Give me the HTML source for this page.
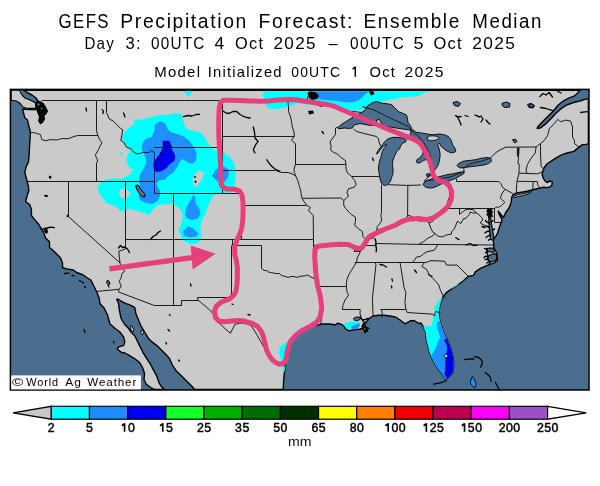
<!DOCTYPE html>
<html><head><meta charset="utf-8"><title>GEFS Precipitation Forecast</title>
<style>html,body{margin:0;padding:0;background:#fff;width:600px;height:486px;overflow:hidden}text{-webkit-font-smoothing:antialiased}svg{will-change:transform}</style>
</head><body>
<svg width="600" height="486" viewBox="0 0 600 486" style="display:block">
<rect width="600" height="486" fill="#fff"/>
<defs><clipPath id="mapclip"><rect x="10.7" y="89.7" width="578.2" height="300.2"/></clipPath>
<clipPath id="landclip"><path d="M23.5 90.2 L580.5 90.2 L579.2 90.8 L577.0 93.7 L574.0 96.2 L568.8 98.2 L563.5 100.8 L558.3 105.0 L553.2 111.2 L548.0 116.3 L542.8 121.5 L537.8 126.8 L537.2 128.5 L540.8 127.8 L546.0 123.6 L551.2 118.5 L555.4 113.8 L560.5 109.2 L566.6 105.0 L573.7 102.5 L579.8 101.0 L585.0 99.4 L588.4 98.4 L588.4 143.7 L585.7 144.6 L582.4 144.6 L579.0 147.1 L573.9 151.4 L567.2 153.0 L562.1 154.7 L557.0 157.3 L552.0 160.6 L546.9 164.0 L544.0 168.0 L542.0 174.0 L543.5 178.5 L545.0 181.0 L547.0 182.5 L550.0 181.0 L552.2 181.8 L552.0 185.0 L550.0 187.0 L547.0 187.6 L544.0 187.2 L540.0 188.0 L536.0 189.0 L532.0 190.0 L528.0 191.0 L524.0 191.8 L520.0 192.4 L516.0 193.0 L513.0 194.8 L512.0 196.5 L511.5 199.0 L511.0 203.0 L509.0 208.0 L506.0 212.0 L503.6 217.4 L502.5 216.5 L500.5 214.0 L498.3 211.2 L499.0 214.0 L500.5 217.0 L502.0 219.2 L501.3 222.0 L499.4 227.4 L497.6 233.0 L495.7 236.5 L493.8 238.8 L493.4 241.0 L493.6 244.0 L493.9 247.8 L496.7 253.3 L497.6 259.8 L494.8 262.6 L487.4 265.4 L480.9 268.1 L475.4 271.9 L473.5 275.4 L468.2 276.5 L462.5 281.5 L456.7 285.8 L451.0 289.4 L446.7 292.3 L443.1 296.6 L440.9 301.7 L439.5 307.4 L438.7 313.2 L439.5 318.9 L440.9 324.7 L443.1 330.4 L445.2 336.2 L447.4 340.2 L450.3 347.4 L452.5 354.6 L453.6 361.8 L453.6 367.6 L452.8 371.9 L451.0 374.8 L448.1 377.6 L445.3 379.1 L443.8 376.2 L441.7 373.3 L438.0 369.0 L434.5 363.2 L431.6 357.5 L429.4 351.7 L428.0 345.9 L426.5 340.2 L425.8 333.0 L423.6 327.2 L420.8 322.9 L419.0 323.5 L414.0 320.5 L410.0 321.0 L405.0 323.8 L400.0 320.0 L396.0 317.2 L390.0 316.0 L384.0 315.2 L379.0 315.3 L373.0 316.0 L369.2 318.3 L366.7 321.7 L364.2 323.3 L362.5 325.0 L363.3 326.7 L365.8 328.3 L366.7 330.8 L365.0 332.5 L364.2 330.0 L362.5 328.3 L359.2 329.2 L355.8 329.6 L352.5 330.0 L349.2 330.8 L345.8 329.2 L344.2 326.7 L342.5 325.0 L340.0 323.8 L337.5 323.3 L335.0 325.0 L330.0 324.0 L322.3 324.0 L316.1 325.4 L310.6 326.7 L307.9 328.1 L302.2 330.8 L299.7 332.2 L295.3 335.0 L293.5 336.3 L291.1 339.2 L289.4 342.5 L288.3 346.1 L287.3 349.7 L286.9 354.4 L286.3 357.9 L285.6 362.8 L285.3 366.1 L284.2 374.4 L283.5 382.6 L283.3 389.4 L194.4 389.4 L192.6 387.0 L187.0 381.5 L181.5 375.9 L175.9 370.4 L172.2 364.8 L169.5 358.5 L165.6 354.3 L161.9 350.6 L156.9 345.6 L152.0 341.9 L148.3 338.2 L144.6 332.0 L140.9 325.9 L138.4 319.7 L135.9 313.5 L134.7 307.3 L129.8 304.9 L126.0 303.6 L121.1 301.2 L118.0 299.0 L116.8 299.5 L118.6 303.6 L119.3 309.8 L121.1 318.5 L124.8 324.6 L128.5 328.3 L131.0 332.0 L134.7 335.7 L137.2 340.7 L140.2 346.9 L143.3 353.0 L146.5 358.0 L150.0 363.5 L153.7 370.4 L156.8 376.2 L159.2 383.2 L161.5 386.7 L164.5 389.4 L154.5 389.4 L151.0 387.8 L146.3 384.3 L144.0 379.7 L144.6 373.8 L142.8 368.0 L139.3 362.2 L135.2 359.0 L129.6 355.6 L124.1 352.5 L122.3 353.0 L117.4 349.3 L118.6 346.9 L123.6 345.6 L124.8 341.9 L123.6 337.0 L119.9 332.0 L114.9 328.3 L110.0 324.0 L107.4 314.8 L103.7 307.4 L100.0 303.7 L99.2 298.3 L96.7 291.7 L95.8 290.0 L93.3 285.0 L90.8 280.0 L86.7 277.5 L83.3 275.0 L76.7 272.5 L73.3 270.0 L66.7 269.0 L62.5 267.5 L62.5 263.3 L60.8 258.3 L56.7 254.0 L52.5 250.0 L49.5 247.5 L49.5 241.8 L45.4 237.7 L43.7 232.7 L41.3 228.6 L38.8 224.5 L34.7 219.6 L31.4 215.5 L31.4 209.7 L29.8 204.8 L25.6 201.5 L26.5 198.0 L28.9 190.0 L28.1 185.0 L27.3 182.0 L26.0 177.0 L24.8 172.6 L26.0 167.0 L28.5 162.0 L29.1 154.7 L29.8 142.3 L30.4 133.7 L30.0 130.0 L28.5 125.0 L27.5 120.0 L25.0 118.0 L24.0 114.7 L23.3 112.0 L22.7 109.3 L26.0 109.3 L30.0 109.5 L35.3 109.5 L38.0 109.3 L39.0 104.0 L38.0 101.0 L36.0 98.0 L32.0 95.0 L28.0 93.0 Z" /><path d="M11.2 90.2 L20.0 90.2 L20.5 92.5 L22.5 95.5 L25.0 98.0 L30.0 100.0 L34.0 102.0 L36.5 103.5 L37.0 106.0 L35.0 108.3 L30.0 108.4 L26.0 108.0 L23.0 107.0 L21.0 104.5 L19.0 102.5 L16.0 101.0 L13.0 100.5 L11.2 100.5 Z" /></clipPath></defs>
<g clip-path="url(#mapclip)">
<rect x="0" y="0" width="600" height="486" fill="#4b6e8f"/>
<path d="M23.5 90.2 L580.5 90.2 L579.2 90.8 L577.0 93.7 L574.0 96.2 L568.8 98.2 L563.5 100.8 L558.3 105.0 L553.2 111.2 L548.0 116.3 L542.8 121.5 L537.8 126.8 L537.2 128.5 L540.8 127.8 L546.0 123.6 L551.2 118.5 L555.4 113.8 L560.5 109.2 L566.6 105.0 L573.7 102.5 L579.8 101.0 L585.0 99.4 L588.4 98.4 L588.4 143.7 L585.7 144.6 L582.4 144.6 L579.0 147.1 L573.9 151.4 L567.2 153.0 L562.1 154.7 L557.0 157.3 L552.0 160.6 L546.9 164.0 L544.0 168.0 L542.0 174.0 L543.5 178.5 L545.0 181.0 L547.0 182.5 L550.0 181.0 L552.2 181.8 L552.0 185.0 L550.0 187.0 L547.0 187.6 L544.0 187.2 L540.0 188.0 L536.0 189.0 L532.0 190.0 L528.0 191.0 L524.0 191.8 L520.0 192.4 L516.0 193.0 L513.0 194.8 L512.0 196.5 L511.5 199.0 L511.0 203.0 L509.0 208.0 L506.0 212.0 L503.6 217.4 L502.5 216.5 L500.5 214.0 L498.3 211.2 L499.0 214.0 L500.5 217.0 L502.0 219.2 L501.3 222.0 L499.4 227.4 L497.6 233.0 L495.7 236.5 L493.8 238.8 L493.4 241.0 L493.6 244.0 L493.9 247.8 L496.7 253.3 L497.6 259.8 L494.8 262.6 L487.4 265.4 L480.9 268.1 L475.4 271.9 L473.5 275.4 L468.2 276.5 L462.5 281.5 L456.7 285.8 L451.0 289.4 L446.7 292.3 L443.1 296.6 L440.9 301.7 L439.5 307.4 L438.7 313.2 L439.5 318.9 L440.9 324.7 L443.1 330.4 L445.2 336.2 L447.4 340.2 L450.3 347.4 L452.5 354.6 L453.6 361.8 L453.6 367.6 L452.8 371.9 L451.0 374.8 L448.1 377.6 L445.3 379.1 L443.8 376.2 L441.7 373.3 L438.0 369.0 L434.5 363.2 L431.6 357.5 L429.4 351.7 L428.0 345.9 L426.5 340.2 L425.8 333.0 L423.6 327.2 L420.8 322.9 L419.0 323.5 L414.0 320.5 L410.0 321.0 L405.0 323.8 L400.0 320.0 L396.0 317.2 L390.0 316.0 L384.0 315.2 L379.0 315.3 L373.0 316.0 L369.2 318.3 L366.7 321.7 L364.2 323.3 L362.5 325.0 L363.3 326.7 L365.8 328.3 L366.7 330.8 L365.0 332.5 L364.2 330.0 L362.5 328.3 L359.2 329.2 L355.8 329.6 L352.5 330.0 L349.2 330.8 L345.8 329.2 L344.2 326.7 L342.5 325.0 L340.0 323.8 L337.5 323.3 L335.0 325.0 L330.0 324.0 L322.3 324.0 L316.1 325.4 L310.6 326.7 L307.9 328.1 L302.2 330.8 L299.7 332.2 L295.3 335.0 L293.5 336.3 L291.1 339.2 L289.4 342.5 L288.3 346.1 L287.3 349.7 L286.9 354.4 L286.3 357.9 L285.6 362.8 L285.3 366.1 L284.2 374.4 L283.5 382.6 L283.3 389.4 L194.4 389.4 L192.6 387.0 L187.0 381.5 L181.5 375.9 L175.9 370.4 L172.2 364.8 L169.5 358.5 L165.6 354.3 L161.9 350.6 L156.9 345.6 L152.0 341.9 L148.3 338.2 L144.6 332.0 L140.9 325.9 L138.4 319.7 L135.9 313.5 L134.7 307.3 L129.8 304.9 L126.0 303.6 L121.1 301.2 L118.0 299.0 L116.8 299.5 L118.6 303.6 L119.3 309.8 L121.1 318.5 L124.8 324.6 L128.5 328.3 L131.0 332.0 L134.7 335.7 L137.2 340.7 L140.2 346.9 L143.3 353.0 L146.5 358.0 L150.0 363.5 L153.7 370.4 L156.8 376.2 L159.2 383.2 L161.5 386.7 L164.5 389.4 L154.5 389.4 L151.0 387.8 L146.3 384.3 L144.0 379.7 L144.6 373.8 L142.8 368.0 L139.3 362.2 L135.2 359.0 L129.6 355.6 L124.1 352.5 L122.3 353.0 L117.4 349.3 L118.6 346.9 L123.6 345.6 L124.8 341.9 L123.6 337.0 L119.9 332.0 L114.9 328.3 L110.0 324.0 L107.4 314.8 L103.7 307.4 L100.0 303.7 L99.2 298.3 L96.7 291.7 L95.8 290.0 L93.3 285.0 L90.8 280.0 L86.7 277.5 L83.3 275.0 L76.7 272.5 L73.3 270.0 L66.7 269.0 L62.5 267.5 L62.5 263.3 L60.8 258.3 L56.7 254.0 L52.5 250.0 L49.5 247.5 L49.5 241.8 L45.4 237.7 L43.7 232.7 L41.3 228.6 L38.8 224.5 L34.7 219.6 L31.4 215.5 L31.4 209.7 L29.8 204.8 L25.6 201.5 L26.5 198.0 L28.9 190.0 L28.1 185.0 L27.3 182.0 L26.0 177.0 L24.8 172.6 L26.0 167.0 L28.5 162.0 L29.1 154.7 L29.8 142.3 L30.4 133.7 L30.0 130.0 L28.5 125.0 L27.5 120.0 L25.0 118.0 L24.0 114.7 L23.3 112.0 L22.7 109.3 L26.0 109.3 L30.0 109.5 L35.3 109.5 L38.0 109.3 L39.0 104.0 L38.0 101.0 L36.0 98.0 L32.0 95.0 L28.0 93.0 Z" fill="#cacaca" stroke="#000" stroke-width="1.4" stroke-linejoin="round"/>
<path d="M11.2 90.2 L20.0 90.2 L20.5 92.5 L22.5 95.5 L25.0 98.0 L30.0 100.0 L34.0 102.0 L36.5 103.5 L37.0 106.0 L35.0 108.3 L30.0 108.4 L26.0 108.0 L23.0 107.0 L21.0 104.5 L19.0 102.5 L16.0 101.0 L13.0 100.5 L11.2 100.5 Z" fill="#cacaca" stroke="#000" stroke-width="1.1" stroke-linejoin="round"/>
<path d="M513.5 196.2 L518.0 194.6 L523.0 193.6 L528.0 192.6 L531.5 191.6 L529.5 193.6 L524.0 195.2 L518.0 196.6 L514.0 197.6 Z" fill="#cacaca" stroke="#000" stroke-width="0.9"/>
<path d="M130.4 326.0 L132.0 325.9 L134.0 330.0 L133.0 332.0 L131.0 330.0 Z" fill="#cacaca" stroke="#000" stroke-width="0.9"/>
<path d="M141.0 330.5 L143.0 330.0 L143.5 333.0 L142.0 335.0 L140.9 333.5 Z" fill="#cacaca" stroke="#000" stroke-width="0.9"/>
<g clip-path="url(#landclip)">
<path d="M134.3 118.5 L137.3 120.0 L142.7 119.3 L150.7 117.3 L158.7 115.3 L166.7 114.7 L176.0 113.3 L181.3 114.0 L182.7 118.0 L184.0 123.3 L185.3 127.3 L189.3 130.0 L194.7 131.3 L200.0 132.0 L202.5 134.0 L206.5 140.8 L209.4 145.1 L213.7 149.5 L218.0 150.9 L223.8 152.3 L229.5 156.7 L233.8 162.4 L235.3 168.2 L235.6 175.0 L235.2 182.0 L233.5 188.0 L230.0 192.5 L222.0 193.6 L215.0 194.5 L212.0 197.5 L209.7 202.6 L205.6 212.9 L201.4 221.2 L200.4 229.4 L201.4 237.6 L199.4 241.7 L195.3 243.8 L189.1 243.8 L184.0 240.7 L180.9 236.6 L178.8 230.4 L180.9 224.2 L182.7 219.0 L182.5 213.0 L181.3 210.7 L176.0 205.3 L170.0 204.0 L166.7 204.0 L157.3 205.3 L153.3 209.3 L149.3 214.7 L144.0 213.3 L136.7 210.8 L130.0 208.8 L125.3 210.7 L120.0 210.7 L115.0 205.8 L106.7 203.3 L101.7 196.7 L98.3 191.7 L97.5 186.7 L101.7 181.7 L106.7 179.2 L115.0 178.3 L120.0 179.3 L128.0 176.0 L133.3 170.7 L128.0 165.3 L126.5 160.0 L126.7 158.0 L128.0 154.0 L130.7 151.3 L128.0 148.7 L125.3 144.7 L122.0 138.0 L122.7 135.3 L125.3 131.3 L129.3 127.3 L133.3 124.7 L134.7 122.0 Z M199.7 170.3 L204.3 172.7 L202.0 179.7 L197.3 185.5 L193.8 186.7 L192.7 179.7 L195.0 173.8 Z M120.0 189.5 L125.0 188.3 L130.8 193.3 L126.7 198.3 L122.5 198.3 L119.2 195.0 Z" fill="#00ffff" fill-rule="evenodd"/>
<path d="M121.3 152.0 L122.8 153.3 L121.3 154.8 L119.8 153.3 Z" fill="#00ffff"/>
<path d="M183.5 91.0 L193.0 91.0 L188.5 97.0 Z" fill="#00ffff"/>
<path d="M264.0 91.2 L262.5 95.0 L264.5 99.0 L265.7 105.3 L268.3 108.0 L275.0 109.3 L281.7 108.0 L288.3 106.7 L295.0 104.0 L300.0 103.0 L306.0 104.5 L313.0 104.5 L320.0 105.5 L330.0 106.5 L337.5 106.5 L345.0 109.0 L352.5 110.5 L360.0 110.5 L364.5 109.0 L368.0 106.0 L374.0 103.0 L380.0 102.0 L388.0 100.0 L396.0 99.0 L402.0 97.0 L410.0 97.0 L418.0 96.0 L424.0 93.0 L432.0 91.2 Z" fill="#00ffff"/>
<path d="M464.0 280.0 L461.0 283.5 L456.7 284.4 L452.4 288.0 L443.8 296.6 L438.0 301.7 L434.4 307.4 L433.9 313.3 L433.1 319.9 L431.5 325.6 L423.2 326.5 L418.0 325.0 L410.0 332.0 L430.0 395.0 L460.0 395.0 L470.0 300.0 L470.0 278.0 Z" fill="#00ffff"/>
<path d="M342.9 324.6 L345.8 322.9 L349.2 322.1 L353.3 321.3 L356.7 321.3 L359.2 322.1 L360.0 324.2 L358.3 327.1 L355.0 328.3 L351.7 328.8 L349.2 329.6 L346.7 328.3 L344.2 325.8 Z" fill="#00ffff"/>
<path d="M284.0 344.0 L287.0 341.0 L290.0 346.0 L290.0 360.0 L288.0 368.0 L286.0 374.0 L283.0 370.0 L281.0 360.0 L279.0 352.0 L280.0 347.0 Z" fill="#00ffff"/>
<path d="M160.0 121.3 L165.3 123.3 L167.3 128.7 L170.7 132.0 L177.3 134.0 L184.0 136.7 L189.3 140.7 L192.0 144.7 L194.7 148.7 L196.7 154.0 L196.0 160.7 L193.3 163.3 L189.3 163.3 L185.3 160.7 L182.7 159.0 L179.5 162.0 L177.3 167.0 L173.3 172.5 L168.0 176.0 L165.3 179.5 L160.0 180.0 L156.7 182.7 L157.3 186.7 L160.0 190.7 L160.0 196.0 L157.3 201.3 L152.0 204.0 L145.3 202.7 L140.0 200.0 L138.7 196.0 L140.0 189.3 L139.3 181.3 L140.0 174.7 L144.0 168.0 L146.5 162.0 L145.0 156.0 L142.0 150.0 L142.0 144.7 L144.0 140.7 L146.7 138.7 L152.0 136.7 L154.7 130.0 L154.7 124.7 Z" fill="#1e90ff"/>
<path d="M189.1 202.6 L191.5 199.0 L193.5 194.5 L195.5 197.5 L195.5 203.5 L199.4 208.8 L200.4 214.0 L198.4 218.1 L193.2 220.1 L188.1 219.1 L185.0 215.0 L186.0 208.8 Z" fill="#1e90ff"/>
<path d="M188.1 226.3 L193.2 228.4 L198.4 233.5 L196.3 236.6 L190.1 237.6 L184.0 235.6 L182.9 231.4 L186.0 228.4 Z" fill="#1e90ff"/>
<path d="M212.5 176.0 L215.0 170.5 L219.0 167.0 L224.0 166.5 L228.0 169.0 L229.0 173.5 L227.5 178.5 L224.0 182.5 L220.0 183.0 L216.0 180.0 Z" fill="#1e90ff"/>
<path d="M308.0 91.2 L309.7 94.7 L312.3 97.3 L319.0 99.3 L325.7 100.0 L335.0 100.7 L337.5 101.0 L345.0 102.3 L352.5 102.3 L358.0 100.5 L362.0 97.5 L365.0 94.5 L368.0 92.0 L372.0 91.2 Z" fill="#1e90ff"/>
<path d="M437.0 322.0 L439.5 321.0 L442.0 326.0 L445.0 333.0 L448.0 340.0 L452.0 348.0 L455.0 360.0 L455.0 372.0 L451.0 378.0 L445.0 380.0 L441.7 373.3 L438.0 369.0 L434.5 363.2 L431.0 356.0 L433.0 353.1 L435.9 347.4 L438.1 341.6 L440.2 337.3 L437.3 328.6 Z" fill="#1e90ff"/>
<path d="M350.8 326.7 L355.0 325.0 L359.2 323.3 L360.0 325.8 L356.7 329.2 L352.5 329.6 Z" fill="#1e90ff"/>
<path d="M162.7 140.7 L169.3 140.7 L171.3 144.7 L172.0 150.0 L174.7 154.0 L175.3 158.0 L174.3 161.0 L171.5 163.0 L169.3 164.5 L166.7 168.0 L161.3 171.3 L156.0 172.0 L153.5 168.0 L153.5 163.0 L155.5 159.5 L158.7 155.3 L161.3 151.3 L162.7 147.3 L162.5 143.0 Z" fill="#0000e8"/>
<path d="M443.8 340.2 L446.0 343.0 L447.4 348.8 L446.0 354.6 L445.3 361.8 L445.3 369.0 L444.5 374.0 L447.0 379.0 L455.0 376.0 L456.0 360.0 L452.0 345.0 L447.0 338.0 Z" fill="#0000e8"/>
</g>
<path d="M472.5 376.5 L474.8 380.0 L476.0 384.7 L474.8 388.2 L472.5 385.8 L470.2 382.9 L471.3 378.8 Z" fill="#1e90ff" stroke="#000" stroke-width="0.9"/>
<path d="M337.5 127.8 L342.0 124.0 L348.0 120.3 L354.0 116.5 L360.0 113.5 L364.5 110.5 L367.5 106.0 L372.0 103.0 L376.5 101.5 L381.0 103.0 L387.0 103.8 L391.5 104.5 L394.5 107.5 L399.0 112.0 L403.5 113.5 L406.5 115.0 L407.3 118.0 L408.0 122.5 L410.3 125.5 L411.8 128.5 L411.0 130.0 L405.0 129.3 L399.0 128.5 L393.0 127.5 L388.0 126.5 L383.0 126.0 L379.5 119.5 L377.0 120.0 L376.0 123.0 L373.0 125.5 L367.5 125.0 L360.0 123.5 L354.0 125.0 L352.5 127.8 L349.5 128.5 L345.0 128.0 L339.0 128.7 Z" fill="#4b6e8f" stroke="#000" stroke-width="0.9" stroke-linejoin="round"/>
<path d="M406.0 139.5 L404.0 138.3 L399.0 137.5 L394.0 137.3 L390.0 138.2 L387.0 139.5 L385.0 141.5 L382.5 144.5 L380.0 148.0 L377.5 151.5 L376.5 154.0 L378.0 153.0 L380.5 149.5 L383.5 146.0 L386.5 144.5 L385.5 146.5 L383.7 148.8 L382.2 151.7 L381.5 154.6 L380.8 157.5 L379.4 161.8 L378.6 166.1 L378.6 170.4 L379.4 174.8 L380.0 179.1 L381.5 183.4 L384.4 185.6 L387.3 184.8 L390.2 182.0 L391.6 177.6 L393.0 173.3 L393.0 169.0 L392.3 164.7 L393.0 160.3 L394.5 156.0 L396.7 151.7 L399.5 148.8 L401.0 145.2 L403.1 143.0 L406.0 141.6 Z" fill="#4b6e8f" stroke="#000" stroke-width="0.9" stroke-linejoin="round"/>
<path d="M407.0 139.0 L413.2 140.2 L419.0 143.0 L421.9 146.7 L423.3 151.0 L422.6 154.6 L419.6 157.9 L416.3 160.3 L417.2 163.1 L420.5 162.5 L423.7 160.3 L427.0 159.5 L429.5 161.2 L431.2 164.4 L432.0 167.7 L432.8 171.0 L434.5 170.5 L437.7 166.1 L439.4 161.2 L440.2 154.6 L439.4 149.6 L437.7 144.7 L439.4 143.0 L441.0 146.3 L446.0 150.5 L450.9 152.9 L455.0 152.1 L455.8 149.6 L452.6 144.7 L450.9 139.8 L448.4 136.5 L444.3 134.8 L439.4 134.0 L432.8 134.8 L427.0 134.0 L422.9 133.2 L416.3 132.3 L413.0 129.9 L410.5 130.5 L411.0 133.0 L409.0 136.0 L407.0 137.5 Z" fill="#4b6e8f" stroke="#000" stroke-width="0.9" stroke-linejoin="round"/>
<path d="M422.8 184.5 L425.5 187.0 L428.0 187.8 L431.5 188.0 L434.5 187.3 L437.5 186.0 L441.0 184.0 L443.5 183.4 L447.6 181.2 L450.0 180.5 L455.5 178.5 L460.0 175.8 L463.5 173.8 L464.5 171.8 L461.0 172.0 L457.0 172.8 L452.5 173.8 L448.0 174.5 L443.5 175.5 L439.0 176.8 L434.5 178.0 L430.0 179.5 L427.0 180.5 L425.0 182.0 Z" fill="#4b6e8f" stroke="#000" stroke-width="0.9" stroke-linejoin="round"/>
<path d="M457.0 165.8 L460.0 168.0 L466.0 167.3 L472.0 166.5 L478.0 165.8 L484.0 165.0 L488.5 163.5 L491.5 161.3 L490.8 158.3 L487.0 157.5 L481.0 158.3 L475.0 159.8 L469.0 160.5 L463.0 161.3 L458.5 163.5 Z" fill="#4b6e8f" stroke="#000" stroke-width="0.9" stroke-linejoin="round"/>
<path d="M426.5 174.0 L429.5 173.6 L430.0 175.8 L427.0 176.5 Z" fill="#4b6e8f" stroke="#000" stroke-width="0.9" stroke-linejoin="round"/>
<path d="M517.5 148.0 L519.0 148.0 L518.8 154.0 L518.0 157.0 L517.2 154.0 Z" fill="#4b6e8f" stroke="#000" stroke-width="0.9" stroke-linejoin="round"/>
<path d="M353.5 318.5 L356.0 317.0 L359.5 317.2 L360.5 319.0 L358.0 320.6 L354.5 320.4 Z" fill="#4b6e8f" stroke="#000" stroke-width="0.9" stroke-linejoin="round"/>
<path d="M428.0 136.2 L433.0 135.8 L438.0 136.5 L439.0 138.8 L435.0 140.3 L430.0 140.8 L427.0 139.0 Z" fill="#cacaca" stroke="#000" stroke-width="0.8"/>
<path d="M36.0 102.0 L40.0 101.5 L43.0 103.0 L45.0 106.0 L47.5 111.0 L46.0 114.0 L44.0 116.0 L44.5 119.0 L43.0 122.0 L40.5 124.0 L38.5 121.0 L39.5 117.0 L38.0 113.0 L36.5 109.0 L35.5 105.0 Z" fill="#000" stroke="#000" stroke-width="1" stroke-linejoin="round"/>
<circle cx="38.5" cy="104.5" r="1.2" fill="#4b6e8f"/><circle cx="41.5" cy="108.5" r="1" fill="#4b6e8f"/>
<path d="M489.5 212.0 L489.0 215.0 L488.8 219.0 L489.0 223.0 L489.3 227.0 L489.6 231.0 L490.0 235.0 L490.5 239.0 L493.3 240.5 L493.8 238.0 L493.2 234.0 L492.5 230.0 L491.8 226.0 L491.2 222.0 L490.8 218.0 L490.5 214.0 L490.5 211.0 Z" fill="#4b6e8f" stroke="#000" stroke-width="1.2" stroke-linejoin="round"/>
<path d="M488.0 256.5 L491.0 254.5 L494.5 253.5 L496.5 255.0 L497.0 258.0 L495.5 260.5 L492.0 261.5 L489.0 261.5 L487.5 259.0 Z" fill="#4b6e8f" stroke="#000" stroke-width="1.2" stroke-linejoin="round"/>
<path d="M486.5 248.5 L490.0 248.0 L493.5 248.2 L494.5 250.0 L493.5 252.2 L490.0 252.0 L487.0 251.5 Z" fill="#4b6e8f" stroke="#000" stroke-width="1.2" stroke-linejoin="round"/>
<path d="M487.5 209.0 L491.5 208.8 L492.5 212.0 L491.5 216.0 L489.0 218.0 L487.5 214.0 Z" fill="#000" stroke="#000" stroke-width="0.6" stroke-linejoin="round"/>
<path d="M375.0 238.8 L376.0 242.0 L375.5 245.0 L376.5 248.5 L376.2 251.7" fill="none" stroke="#000" stroke-width="1.4" stroke-linecap="round" stroke-linejoin="round"/>
<path d="M360.0 317.0 L362.5 320.0 L364.5 323.5 L366.0 327.5 L367.5 331.0" fill="none" stroke="#000" stroke-width="1.4" stroke-linecap="round" stroke-linejoin="round"/>
<path d="M364.5 323.5 L362.0 326.5 L363.5 329.5" fill="none" stroke="#000" stroke-width="1.4" stroke-linecap="round" stroke-linejoin="round"/>
<path d="M366.0 327.5 L369.0 328.5" fill="none" stroke="#000" stroke-width="1.4" stroke-linecap="round" stroke-linejoin="round"/>
<path d="M366.5 329.5 L365.0 332.5" fill="none" stroke="#000" stroke-width="1.4" stroke-linecap="round" stroke-linejoin="round"/>
<path d="M362.5 320.0 L365.5 319.5 L368.0 318.5" fill="none" stroke="#000" stroke-width="1.4" stroke-linecap="round" stroke-linejoin="round"/>
<path d="M489.3 227.0 L486.5 226.2 L484.5 227.5 L482.0 226.5" fill="none" stroke="#000" stroke-width="1.4" stroke-linecap="round" stroke-linejoin="round"/>
<path d="M489.6 231.0 L487.0 231.5 L485.0 232.8" fill="none" stroke="#000" stroke-width="1.4" stroke-linecap="round" stroke-linejoin="round"/>
<path d="M490.0 235.0 L487.5 236.3 L486.0 237.5" fill="none" stroke="#000" stroke-width="1.4" stroke-linecap="round" stroke-linejoin="round"/>
<path d="M490.5 239.0 L488.5 240.2" fill="none" stroke="#000" stroke-width="1.4" stroke-linecap="round" stroke-linejoin="round"/>
<path d="M489.0 223.0 L487.0 222.2 L485.5 220.5" fill="none" stroke="#000" stroke-width="1.4" stroke-linecap="round" stroke-linejoin="round"/>
<path d="M489.0 215.5 L487.0 214.5" fill="none" stroke="#000" stroke-width="1.4" stroke-linecap="round" stroke-linejoin="round"/>
<path d="M489.5 212.0 L487.0 211.0" fill="none" stroke="#000" stroke-width="1.4" stroke-linecap="round" stroke-linejoin="round"/>
<path d="M491.2 222.0 L493.0 220.5" fill="none" stroke="#000" stroke-width="1.4" stroke-linecap="round" stroke-linejoin="round"/>
<path d="M492.5 230.0 L494.5 229.0" fill="none" stroke="#000" stroke-width="1.4" stroke-linecap="round" stroke-linejoin="round"/>
<path d="M490.5 214.0 L492.5 216.5" fill="none" stroke="#000" stroke-width="1.4" stroke-linecap="round" stroke-linejoin="round"/>
<path d="M487.0 249.0 L484.5 248.6" fill="none" stroke="#000" stroke-width="1.4" stroke-linecap="round" stroke-linejoin="round"/>
<path d="M487.5 251.5 L485.5 252.8" fill="none" stroke="#000" stroke-width="1.4" stroke-linecap="round" stroke-linejoin="round"/>
<path d="M488.0 256.5 L485.5 256.2 L484.0 257.5" fill="none" stroke="#000" stroke-width="1.4" stroke-linecap="round" stroke-linejoin="round"/>
<path d="M487.5 259.0 L485.0 259.6" fill="none" stroke="#000" stroke-width="1.4" stroke-linecap="round" stroke-linejoin="round"/>
<path d="M489.0 261.5 L486.8 263.0" fill="none" stroke="#000" stroke-width="1.4" stroke-linecap="round" stroke-linejoin="round"/>
<path d="M490.5 262.0 L489.0 264.2" fill="none" stroke="#000" stroke-width="1.4" stroke-linecap="round" stroke-linejoin="round"/>
<path d="M486.5 248.5 L487.2 251.5 L488.0 256.5 L487.5 259.0 L489.0 261.5" fill="none" stroke="#000" stroke-width="1.4" stroke-linecap="round" stroke-linejoin="round"/>
<path d="M135.8 185.5 L138.0 185.0 L140.5 189.0 L144.5 193.5 L145.0 197.0 L142.0 196.5 L139.0 193.0 L136.5 189.0 Z" fill="#5a6a7a" stroke="#000" stroke-width="1"/>
<path d="M446.0 353.8 L448.2 356.0 L446.0 358.2 L443.8 356.0 Z" fill="#cacaca" stroke="#000" stroke-width="0.8"/>
<path d="M307.5 93.0 L311.0 91.5 L316.0 92.5 L319.0 95.5 L317.0 99.0 L312.0 100.0 L308.5 97.5 Z" fill="#000"/>
<path d="M369.0 91.5 L373.0 91.0 L374.5 94.0 L371.0 95.5 Z" fill="#000"/>
<path d="M308.0 111.0 L313.0 110.5 L314.0 113.5 L309.0 114.5 Z" fill="#000"/>
<path d="M49.0 175.5 L51.5 176.5 L51.0 179.0 L48.8 178.0 Z" fill="#000"/>
<path d="M67.0 214.5 L69.0 215.5 L68.0 217.5 L66.5 216.5 Z" fill="#000"/>
<path d="M44.0 228.0 L47.0 228.3 L48.0 231.5 L47.0 234.0 L45.0 233.0 L43.8 230.5 Z" fill="#000"/>
<path d="M44.0 194.8 L47.5 195.0 L48.0 196.8 L45.0 197.0 Z" fill="#000"/>
<path d="M194.3 175.8 L195.8 176.2 L195.5 178.2 L194.2 177.8 Z" fill="#000"/>
<path d="M194.8 180.5 L196.5 181.0 L196.2 183.0 L194.6 182.5 Z" fill="#000"/>
<path d="M212.8 175.2 L214.0 175.5 L213.8 176.8 L212.6 176.5 Z" fill="#000"/>
<path d="M107.0 280.5 L109.0 281.0 L110.0 284.0 L108.5 285.0 L106.8 283.0 Z" fill="#4b6e8f" stroke="#000" stroke-width="1"/>
<path d="M502.0 103.5 L506.0 102.0 L510.0 103.5 L509.5 107.0 L505.0 107.5 L502.5 106.0 Z" fill="#4b6e8f" stroke="#000" stroke-width="1"/>
<path d="M527.5 104.5 L531.0 103.6 L534.5 105.5 L533.0 108.0 L529.0 107.5 Z" fill="#4b6e8f" stroke="#000" stroke-width="1"/>
<path d="M530.0 103.5 L533.0 104.5 L533.6 107.0 L530.0 107.6 Z" fill="#4b6e8f" stroke="#000" stroke-width="1"/>
<path d="M512.5 139.8 L515.5 139.2 L517.0 141.5 L514.5 142.8 Z" fill="#4b6e8f" stroke="#000" stroke-width="1"/>
<path d="M453.0 102.5 L457.0 101.5 L460.5 103.5 L458.5 106.5 L454.5 105.5 Z" fill="#4b6e8f" stroke="#000" stroke-width="1"/>
<path d="M84.0 329.5 L85.0 332.5" fill="none" stroke="#000" stroke-width="1.3" stroke-linejoin="round" stroke-linecap="round"/>
<path d="M113.5 341.5 L114.0 343.0" fill="none" stroke="#000" stroke-width="1.3" stroke-linejoin="round" stroke-linecap="round"/>
<path d="M169.5 314.5 L170.0 315.5" fill="none" stroke="#000" stroke-width="1.3" stroke-linejoin="round" stroke-linecap="round"/>
<path d="M168.0 329.5 L169.5 331.0" fill="none" stroke="#000" stroke-width="1.3" stroke-linejoin="round" stroke-linecap="round"/>
<path d="M166.0 342.5 L166.5 344.0" fill="none" stroke="#000" stroke-width="1.3" stroke-linejoin="round" stroke-linecap="round"/>
<path d="M178.5 360.0 L179.5 361.0" fill="none" stroke="#000" stroke-width="1.3" stroke-linejoin="round" stroke-linecap="round"/>
<path d="M190.5 284.0 L191.0 286.0" fill="none" stroke="#000" stroke-width="1.3" stroke-linejoin="round" stroke-linecap="round"/>
<path d="M108.0 285.5 L109.0 287.0" fill="none" stroke="#000" stroke-width="1.3" stroke-linejoin="round" stroke-linecap="round"/>
<path d="M232.0 304.0 L233.0 304.5" fill="none" stroke="#000" stroke-width="1.3" stroke-linejoin="round" stroke-linecap="round"/>
<path d="M248.0 314.5 L250.0 315.0" fill="none" stroke="#000" stroke-width="1.3" stroke-linejoin="round" stroke-linecap="round"/>
<path d="M41.0 229.5 L44.0 228.5 L47.0 228.0 L50.5 227.2 L54.5 227.6" fill="none" stroke="#000" stroke-width="1.3" stroke-linejoin="round" stroke-linecap="round"/>
<path d="M118.5 248.0 L120.5 245.5 L122.5 247.5 L125.0 247.0 L127.5 249.0 L129.5 252.5" fill="none" stroke="#000" stroke-width="1.3" stroke-linejoin="round" stroke-linecap="round"/>
<path d="M540.0 96.5 L543.0 93.5 L546.0 95.0 L549.0 92.5 L552.5 97.0" fill="none" stroke="#000" stroke-width="1.3" stroke-linejoin="round" stroke-linecap="round"/>
<path d="M557.0 90.5 L559.0 92.0 L561.0 93.0" fill="none" stroke="#000" stroke-width="1.3" stroke-linejoin="round" stroke-linecap="round"/>
<path d="M476.0 115.5 L479.0 117.0 L481.0 116.0 L483.0 119.0 L481.0 122.0" fill="none" stroke="#000" stroke-width="1.3" stroke-linejoin="round" stroke-linecap="round"/>
<path d="M486.0 120.0 L488.5 123.0 L490.0 124.0" fill="none" stroke="#000" stroke-width="1.3" stroke-linejoin="round" stroke-linecap="round"/>
<path d="M455.5 115.5 L458.0 117.0 L461.0 116.5" fill="none" stroke="#000" stroke-width="1.3" stroke-linejoin="round" stroke-linecap="round"/>
<path d="M465.0 115.5 L468.0 116.5" fill="none" stroke="#000" stroke-width="1.3" stroke-linejoin="round" stroke-linecap="round"/>
<path d="M475.0 115.0 L479.0 116.5" fill="none" stroke="#000" stroke-width="1.3" stroke-linejoin="round" stroke-linecap="round"/>
<path d="M183.3 116.7 L188.0 115.5 L192.0 116.0 L196.0 114.5 L199.7 114.3" fill="none" stroke="#000" stroke-width="1.3" stroke-linejoin="round" stroke-linecap="round"/>
<path d="M223.3 111.3 L227.0 113.5 L230.0 113.0 L233.0 111.5 L236.7 111.5 L240.0 114.5 L243.3 116.3 L247.0 117.5 L250.0 118.0" fill="none" stroke="#000" stroke-width="1.3" stroke-linejoin="round" stroke-linecap="round"/>
<path d="M253.3 127.0 L254.5 132.0 L255.0 138.0 L258.0 141.3 L255.5 145.0 L253.3 149.7 L255.0 153.0" fill="none" stroke="#000" stroke-width="1.3" stroke-linejoin="round" stroke-linecap="round"/>
<path d="M266.7 159.7 L269.0 163.0 L271.7 166.3 L275.0 169.0 L280.0 171.3" fill="none" stroke="#000" stroke-width="1.3" stroke-linejoin="round" stroke-linecap="round"/>
<path d="M150.5 239.5 L153.0 236.5 L156.0 235.0 L158.0 232.5 L160.5 231.0" fill="none" stroke="#000" stroke-width="1.3" stroke-linejoin="round" stroke-linecap="round"/>
<path d="M380.0 264.5 L383.0 265.0 L386.5 267.0" fill="none" stroke="#000" stroke-width="1.3" stroke-linejoin="round" stroke-linecap="round"/>
<path d="M392.0 279.0 L392.5 281.0" fill="none" stroke="#000" stroke-width="1.3" stroke-linejoin="round" stroke-linecap="round"/>
<path d="M391.5 286.0 L391.8 288.0" fill="none" stroke="#000" stroke-width="1.3" stroke-linejoin="round" stroke-linecap="round"/>
<path d="M414.5 270.0 L416.5 272.5" fill="none" stroke="#000" stroke-width="1.3" stroke-linejoin="round" stroke-linecap="round"/>
<path d="M428.5 274.5 L432.0 276.5" fill="none" stroke="#000" stroke-width="1.3" stroke-linejoin="round" stroke-linecap="round"/>
<path d="M455.8 237.8 L459.0 239.6" fill="none" stroke="#000" stroke-width="1.3" stroke-linejoin="round" stroke-linecap="round"/>
<path d="M466.0 244.8 L470.0 243.6 L474.0 245.6 L477.0 245.2" fill="none" stroke="#000" stroke-width="1.3" stroke-linejoin="round" stroke-linecap="round"/>
<path d="M456.7 116.0 L458.5 119.0 L460.0 122.0 L461.0 125.0" fill="none" stroke="#000" stroke-width="1.3" stroke-linejoin="round" stroke-linecap="round"/>
<path d="M123.5 113.0 L124.5 115.5 L125.0 117.0" fill="none" stroke="#000" stroke-width="1.3" stroke-linejoin="round" stroke-linecap="round"/>
<path d="M102.2 109.5 L103.5 111.5 L102.8 113.5" fill="none" stroke="#000" stroke-width="1.3" stroke-linejoin="round" stroke-linecap="round"/>
<path d="M86.0 108.0 L86.5 111.0" fill="none" stroke="#000" stroke-width="1.3" stroke-linejoin="round" stroke-linecap="round"/>
<path d="M160.5 153.0 L162.0 154.5" fill="none" stroke="#000" stroke-width="1.3" stroke-linejoin="round" stroke-linecap="round"/>
<path d="M372.5 158.0 L373.5 160.5" fill="none" stroke="#000" stroke-width="1.3" stroke-linejoin="round" stroke-linecap="round"/>
<path d="M322.0 131.5 L323.5 133.5" fill="none" stroke="#000" stroke-width="1.3" stroke-linejoin="round" stroke-linecap="round"/>
<path d="M540.5 107.5 L546.0 108.5 L553.6 110.8" fill="none" stroke="#000" stroke-width="1.3" stroke-linejoin="round" stroke-linecap="round"/>
<path d="M580.7 112.5 L585.0 111.8 L588.4 111.7" fill="none" stroke="#000" stroke-width="1.3" stroke-linejoin="round" stroke-linecap="round"/>
<path d="M64.5 273.5 L69.0 273.2" fill="none" stroke="#000" stroke-width="1.3" stroke-linecap="round" stroke-linejoin="round"/>
<path d="M72.0 275.5 L74.0 275.8" fill="none" stroke="#000" stroke-width="1.3" stroke-linecap="round" stroke-linejoin="round"/>
<path d="M79.5 280.5 L81.0 281.5" fill="none" stroke="#000" stroke-width="1.3" stroke-linecap="round" stroke-linejoin="round"/>
<path d="M82.5 282.0 L83.5 283.0" fill="none" stroke="#000" stroke-width="1.3" stroke-linecap="round" stroke-linejoin="round"/>
<path d="M84.5 286.5 L85.5 287.5" fill="none" stroke="#000" stroke-width="1.3" stroke-linecap="round" stroke-linejoin="round"/>
<path d="M464.3 359.6 L468.0 359.2 L473.7 359.0" fill="none" stroke="#000" stroke-width="1.3" stroke-linecap="round" stroke-linejoin="round"/>
<path d="M474.3 356.7 L478.3 357.3 L481.8 360.2 L482.4 363.1 L480.7 367.2" fill="none" stroke="#000" stroke-width="1.3" stroke-linecap="round" stroke-linejoin="round"/>
<path d="M485.3 372.4 L490.0 376.5 L491.2 381.2" fill="none" stroke="#000" stroke-width="1.3" stroke-linecap="round" stroke-linejoin="round"/>
<path d="M495.3 382.3 L498.8 388.8" fill="none" stroke="#000" stroke-width="1.3" stroke-linecap="round" stroke-linejoin="round"/>
<path d="M446.7 380.5 L441.0 382.7 L433.7 384.1" fill="none" stroke="#000" stroke-width="1.3" stroke-linecap="round" stroke-linejoin="round"/>
<path d="M41.7 100.5 L307.5 100.5 L307.5 96.5 M311.1 97.4 L312.8 103.8 L317.1 104.9 L321.0 106.4 L324.8 105.5 L329.2 105.3 L332.5 107.2 L336.4 108.4 L341.2 110.7 L346.1 111.6 L349.9 111.5 L353.8 111.5 L358.6 112.2 L361.5 112.4 M362.0 106.5 L373.5 109.8 L390.0 118.0 L408.0 126.3 L411.2 129.6 L414.0 133.3 L418.0 135.5 L424.0 143.0 L430.0 154.6 L431.5 163.0 L432.5 171.0 L430.0 176.0 L426.0 179.0 L424.2 181.3 L437.0 179.3 L450.0 177.0 L458.0 174.0 L464.0 171.8 L463.8 168.0 L471.0 163.5 L480.0 161.5 L490.0 158.3 L496.0 152.5 L500.0 150.0 L505.9 147.2 M505.2 147.2 L536.1 147.0 L540.2 143.7 M540.2 143.7 L544.4 140.4 L547.7 135.3 L549.4 128.5 L553.6 124.3 L557.9 119.3 L560.4 121.8 L565.5 120.1 L570.5 121.0 L572.5 126.9 L572.5 137.0 L574.5 140.4 L574.5 143.7 L579.0 147.1 M96.0 291.5 L119.1 289.3 L118.3 291.9 L154.3 305.5 L181.5 305.5 L181.5 300.5 L198.1 300.5 M198.1 300.2 L201.1 302.6 L207.9 308.3 L214.7 315.1 L217.0 320.7 L223.7 327.5 L230.5 333.2 L232.5 329.0 L235.1 324.1 L241.9 323.0 L246.0 323.8 L250.9 325.3 L255.4 332.1 L260.6 341.4 L266.7 351.7 L272.9 360.0 L279.1 364.1 L285.0 366.1 M29.6 132.6 L34.4 132.7 L37.3 133.6 L40.2 134.4 L41.2 137.3 L41.7 139.6 L46.0 140.8 L49.9 139.6 L56.6 140.0 L62.4 138.5 L68.2 138.8 L74.0 136.5 L77.8 135.5 L97.9 135.5 M96.5 100.9 L96.5 130.7 L97.9 135.6 L100.0 140.2 L102.0 142.5 L99.5 147.2 L98.6 149.5 L95.2 155.3 L97.1 158.7 L97.6 161.1 L96.5 162.8 L96.5 181.9 M27.6 181.5 L154.5 181.5 M106.5 100.9 L106.5 112.7 L109.5 119.2 L113.5 121.1 L116.6 124.6 L120.3 128.1 L122.7 129.8 L121.7 135.7 L120.8 140.6 L123.2 141.7 L126.6 147.2 L131.4 148.9 L133.3 151.8 L137.7 154.1 L142.5 152.5 L149.2 152.5 L151.5 150.1 L154.5 153.0 L154.5 193.5 L173.8 193.5 M154.5 147.5 L222.1 147.5 M222.5 100.9 L222.5 193.5 M173.8 193.5 L241.5 193.5 L241.5 239.7 M173.5 193.5 L173.5 305.4 M125.5 181.9 L125.5 249.0 L122.2 250.2 L118.9 251.1 L119.3 257.1 L120.0 262.9 M125.6 239.5 L313.1 239.5 M241.4 205.5 L306.4 205.5 M68.5 181.9 L68.5 216.6 L120.0 262.9 M120.0 262.9 L120.6 265.2 L122.7 269.3 L124.8 271.3 L121.9 273.5 L121.1 277.9 L119.1 281.4 L121.3 286.0 L119.1 289.3 M232.5 239.7 L232.5 245.5 L261.5 245.5 L261.5 268.0 M231.5 245.5 L231.5 297.5 L197.3 297.5 L198.1 300.2 M261.1 268.0 L264.0 270.5 L266.9 270.5 L268.9 272.2 L271.8 272.7 L275.6 273.5 L279.5 273.5 L281.4 275.6 L284.3 276.2 L288.2 277.4 L291.1 276.5 L294.0 276.5 L296.8 277.4 L300.7 276.2 L304.6 275.9 L307.5 275.0 L310.4 276.8 L314.4 278.6 L318.7 279.7 M314.4 278.6 L314.9 258.3 L313.5 245.5 L313.5 239.7 L313.2 215.4 L310.4 212.6 L308.4 210.2 L310.5 207.6 L306.4 205.0 L304.1 201.6 L302.0 198.3 L301.2 194.6 L300.9 191.1 L299.7 187.7 L298.8 184.2 L297.8 180.7 L295.9 176.3 L293.0 174.2 L288.2 172.5 L281.4 172.5 L275.6 170.5 L222.1 170.5 M295.9 176.3 L294.4 172.6 L294.0 169.2 L295.5 164.5 L295.5 143.7 L291.5 140.2 L294.3 136.3 L294.0 132.1 L292.2 126.3 L291.5 121.7 L290.6 117.1 L288.5 111.3 L288.5 106.7 L287.8 100.9 M222.1 136.5 L294.3 136.5 M295.4 164.5 L345.9 164.5 M302.0 198.3 L340.9 198.0 L343.9 200.6 M345.9 164.5 L346.1 169.2 L347.5 173.2 L351.4 176.1 L354.7 180.7 L356.2 184.2 L354.3 187.1 L348.5 188.8 L347.0 192.3 L348.5 196.4 L346.8 197.5 L343.9 200.6 L343.6 205.0 L345.6 208.5 L349.4 212.6 L351.8 214.9 L355.5 217.2 L355.5 221.2 L354.7 225.3 L358.6 228.8 L362.5 231.6 L362.9 236.3 L365.8 239.7 L365.3 241.5 L362.0 245.5 L362.5 247.9 L360.5 251.3 L357.1 258.3 L356.7 261.7 L354.7 265.2 L351.8 269.8 L348.9 274.5 L347.0 279.1 L346.5 283.1 L346.3 286.0 L347.0 291.8 L348.5 295.3 L345.1 299.9 L343.2 304.6 L342.2 309.5 L360.2 309.5 L360.0 313.8 L361.5 318.7 M313.1 245.5 L356.2 245.5 L354.1 251.5 L360.5 251.5 M318.7 286.5 L346.3 286.5 M318.5 279.7 L318.5 297.6 L319.5 298.8 L321.0 303.4 L323.4 306.9 L322.9 310.3 L321.9 316.1 L321.4 319.6 L320.5 323.7 M345.9 164.5 L345.4 160.5 L341.2 157.6 L337.4 154.1 L333.0 152.0 L330.6 150.1 L331.1 146.0 L330.1 142.5 L331.1 140.2 L335.5 134.4 L335.5 128.1 L337.4 126.9 M353.6 129.0 L356.7 131.5 L363.4 133.3 L370.2 135.0 L376.0 136.4 L378.4 138.5 L379.3 143.1 L380.8 146.0 M351.5 176.5 L378.9 176.5 M381.5 184.7 L381.5 212.6 L380.8 215.4 L381.7 219.5 L380.8 222.4 L377.4 226.4 L376.6 230.5 L376.0 234.0 L372.6 238.6 L369.2 238.0 L365.8 239.7 M388.3 184.7 L407.8 185.4 L407.6 215.4 M407.6 215.4 L406.8 218.9 L402.0 219.7 L399.1 224.7 L396.2 225.9 L393.3 227.0 L391.4 228.5 L388.5 228.5 L385.6 230.5 L380.8 228.8 L376.6 230.5 M407.8 185.4 L420.8 185.0 M449.5 182.1 L449.5 208.3 M449.1 197.6 L448.1 200.4 L447.4 205.0 L445.9 208.5 L441.6 212.6 L437.7 214.3 L437.2 217.2 L433.8 219.5 L432.9 221.2 L429.0 223.0 L426.6 219.8 L422.3 221.0 L418.9 220.9 L414.6 218.9 L412.6 216.8 L409.7 215.7 L407.6 215.4 M429.0 223.0 L431.0 228.8 L432.9 232.2 L435.1 233.5 L431.9 236.3 L428.1 238.0 L423.7 241.5 L418.7 244.4 L376.4 243.5 L376.2 245.5 L362.0 245.5 M418.7 244.4 L437.9 244.5 L494.0 245.0 M437.9 244.5 L435.8 247.9 L434.3 250.2 L429.0 251.3 L426.1 252.1 L423.2 254.2 L420.3 256.4 L416.5 257.1 L415.0 259.4 L412.4 262.5 L354.7 262.5 M412.4 262.5 L424.2 262.5 L427.6 262.1 L431.0 260.6 L444.0 261.2 L445.0 261.7 L446.4 265.0 L457.2 265.2 L468.2 276.2 M424.2 262.9 L421.8 266.4 L426.6 269.3 L429.0 274.5 L432.9 278.5 L435.3 280.8 L438.7 284.9 L440.6 290.7 L443.5 296.5 L445.6 297.3 M400.1 262.9 L404.1 287.5 L405.9 292.4 L405.4 297.6 L404.9 302.2 L405.9 309.2 L407.2 312.5 L432.9 314.2 L434.3 316.1 L434.8 313.8 L435.8 311.5 L440.1 312.7 M380.8 309.5 L405.9 309.5 M380.8 309.2 L382.2 312.1 L381.7 317.5 M375.0 262.9 L376.0 264.1 L372.4 298.8 L373.1 316.4 M435.1 233.5 L438.2 236.3 L442.5 236.9 L445.9 235.1 L451.5 234.0 L451.5 231.6 L454.1 229.3 L457.5 221.2 L460.9 223.5 L463.8 218.3 L465.2 218.9 L469.5 214.3 L470.0 212.0 L473.4 213.1 L476.1 212.9 M476.1 212.9 L478.7 214.3 L480.6 216.6 L482.6 218.3 L482.6 220.1 L480.2 223.0 L483.1 224.7 L486.9 226.4 L489.8 228.8 M476.1 212.9 L473.4 209.7 L469.5 209.4 L465.7 209.7 L463.3 211.4 L459.5 214.3 L459.5 208.3 M449.1 208.5 L494.5 208.5 L494.5 222.5 L501.9 222.5 M494.7 208.3 L496.6 207.0 L498.3 207.3 L500.4 206.4 L501.9 205.0 L503.8 203.3 L504.8 202.5 L502.3 199.8 L500.4 198.3 L501.4 195.2 L502.3 192.9 L505.2 189.3 L513.0 193.6 M456.5 178.8 L456.5 181.5 L498.9 181.5 L500.9 183.6 L502.8 187.7 L505.2 189.3 M515.3 193.5 L516.8 192.3 L516.3 190.0 L517.0 181.3 L519.0 173.2 L519.2 163.9 L517.8 163.4 L518.5 158.7 L518.5 147.2 M517.0 181.3 L533.2 181.5 L537.3 181.5 L537.6 184.8 L539.8 187.7 M533.2 181.7 L532.7 189.8 M519.0 173.2 L538.0 173.8 L541.9 171.7 L542.7 171.8 M526.9 173.4 L526.0 170.3 L527.4 164.5 L530.8 158.7 L535.2 153.0 L536.1 147.0 M543.8 169.4 L541.1 166.3 L540.5 153.0 L540.5 143.7" fill="none" stroke="#1a1a1a" stroke-width="1" stroke-linejoin="round"/>
<path d="M218.7 130.0 L218.7 118.0 L219.2 108.0 L220.5 102.5 L223.0 100.3 L228.0 100.2 L240.0 100.5 L250.0 100.9 L260.0 101.2 L268.3 100.9 L278.0 100.0 L288.3 99.4 L296.0 99.8 L301.7 100.7 L308.0 101.5 L315.0 102.7 L322.0 103.7 L328.3 104.7 L335.0 106.6 L342.0 109.8 L350.0 113.0 L360.0 117.5 L370.0 121.7 L380.0 125.7 L390.0 130.0 L398.2 133.3 L406.5 136.4 L414.7 139.6 L420.5 143.5 L423.7 148.8 L427.0 154.6 L430.3 162.8 L432.0 169.4 L433.6 176.0 L437.7 180.1 L444.3 181.7 L449.3 185.8 L451.8 192.0 L451.5 198.5 L449.5 204.0 L446.0 208.5 L441.3 212.5 L434.3 217.3 L427.3 219.7 L418.0 218.5 L408.7 219.2 L401.7 221.5 L394.7 225.5 L385.3 229.0 L376.0 233.3 L369.0 236.8 L365.5 242.3 L362.0 247.7 L357.3 248.8 L352.7 246.5 L348.0 244.4 L338.7 244.3 L329.3 245.0 L322.0 245.8 L317.0 246.5 L315.0 249.5 L314.7 257.2 L315.3 265.0 L315.6 271.1 L317.5 285.0 L320.3 296.1 L321.7 307.2 L320.3 316.5 L316.5 322.5 L310.0 326.5 L302.0 330.5 L300.0 331.9 L295.0 336.0 L290.7 341.1 L288.5 346.5 L287.0 352.2 L286.5 357.0 L285.2 361.5 L283.0 363.5 L279.6 364.3 L276.0 362.8 L272.2 359.6 L269.5 356.0 L266.7 350.4 L265.0 343.0 L263.0 335.6 L261.0 331.0 L257.4 326.3 L252.3 323.5 L245.0 321.3 L238.8 320.5 L232.0 321.0 L225.0 321.8 L219.0 321.3 L215.5 317.5 L214.5 311.0 L216.5 306.0 L221.5 302.0 L229.0 299.2 L233.6 295.5 L235.9 291.6 L237.0 284.0 L237.4 277.2 L237.4 268.0 L236.5 261.0 L234.8 254.2 L234.8 247.0 L236.8 240.5 L239.8 234.0 L241.7 228.2 L242.8 220.0 L243.1 211.0 L243.0 202.3 L242.0 195.0 L239.5 191.0 L235.0 189.3 L227.3 189.0 L223.5 187.8 L221.2 184.5 L220.8 175.0 L220.5 165.0 L219.7 150.0 L219.0 140.0 L218.7 130.0" fill="none" stroke="#e6407c" stroke-width="5" stroke-linejoin="round" stroke-linecap="round"/>
<path d="M109.4 268.9 L192.0 257.6" fill="none" stroke="#e6407c" stroke-width="5.2"/>
<path d="M190.6 245.4 L215.6 253.8 L192.7 269.4 Z" fill="#e6407c"/>
</g>
<rect x="10.4" y="89.4" width="578.6" height="300.6" fill="none" stroke="#000" stroke-width="1.5"/>

<rect x="11.2" y="375.4" width="129.7" height="14" fill="#fff"/>
<text x="58.50" y="27.50" font-family="Liberation Sans, sans-serif" font-size="19.30" letter-spacing="1.60" textLength="51.50" lengthAdjust="spacingAndGlyphs" fill="#000">GEFS</text>
<text x="120.30" y="27.50" font-family="Liberation Sans, sans-serif" font-size="19.30" letter-spacing="1.60" textLength="127.70" lengthAdjust="spacingAndGlyphs" fill="#000">Precipitation</text>
<text x="258.50" y="27.50" font-family="Liberation Sans, sans-serif" font-size="19.30" letter-spacing="1.60" textLength="95.50" lengthAdjust="spacingAndGlyphs" fill="#000">Forecast:</text>
<text x="363.50" y="27.50" font-family="Liberation Sans, sans-serif" font-size="19.30" letter-spacing="1.60" textLength="97.30" lengthAdjust="spacingAndGlyphs" fill="#000">Ensemble</text>
<text x="472.30" y="27.50" font-family="Liberation Sans, sans-serif" font-size="19.30" letter-spacing="1.60" textLength="70.70" lengthAdjust="spacingAndGlyphs" fill="#000">Median</text>
<text x="84.50" y="48.50" font-family="Liberation Sans, sans-serif" font-size="16.40" letter-spacing="1.30" textLength="30.50" lengthAdjust="spacingAndGlyphs" fill="#000">Day</text>
<text x="125.50" y="48.50" font-family="Liberation Sans, sans-serif" font-size="16.40" letter-spacing="1.30" textLength="16.50" lengthAdjust="spacingAndGlyphs" fill="#000">3:</text>
<text x="151.10" y="48.50" font-family="Liberation Sans, sans-serif" font-size="16.40" letter-spacing="1.30" textLength="54.50" lengthAdjust="spacingAndGlyphs" fill="#000">00UTC</text>
<text x="214.50" y="48.50" font-family="Liberation Sans, sans-serif" font-size="16.40" letter-spacing="1.30" textLength="11.10" lengthAdjust="spacingAndGlyphs" fill="#000">4</text>
<text x="235.10" y="48.50" font-family="Liberation Sans, sans-serif" font-size="16.40" letter-spacing="1.30" textLength="29.30" lengthAdjust="spacingAndGlyphs" fill="#000">Oct</text>
<text x="273.50" y="48.50" font-family="Liberation Sans, sans-serif" font-size="16.40" letter-spacing="1.30" textLength="43.50" lengthAdjust="spacingAndGlyphs" fill="#000">2025</text>
<text x="328.50" y="48.50" font-family="Liberation Sans, sans-serif" font-size="16.40" letter-spacing="1.30" textLength="10.50" lengthAdjust="spacingAndGlyphs" fill="#000">–</text>
<text x="350.10" y="48.50" font-family="Liberation Sans, sans-serif" font-size="16.40" letter-spacing="1.30" textLength="54.90" lengthAdjust="spacingAndGlyphs" fill="#000">00UTC</text>
<text x="413.50" y="48.50" font-family="Liberation Sans, sans-serif" font-size="16.40" letter-spacing="1.30" textLength="11.50" lengthAdjust="spacingAndGlyphs" fill="#000">5</text>
<text x="433.50" y="48.50" font-family="Liberation Sans, sans-serif" font-size="16.40" letter-spacing="1.30" textLength="29.50" lengthAdjust="spacingAndGlyphs" fill="#000">Oct</text>
<text x="472.30" y="48.50" font-family="Liberation Sans, sans-serif" font-size="16.40" letter-spacing="1.30" textLength="43.90" lengthAdjust="spacingAndGlyphs" fill="#000">2025</text>
<text x="154.30" y="76.70" font-family="Liberation Sans, sans-serif" font-size="14.50" letter-spacing="1.20" textLength="46.90" lengthAdjust="spacingAndGlyphs" fill="#000">Model</text>
<text x="207.70" y="76.70" font-family="Liberation Sans, sans-serif" font-size="14.50" letter-spacing="1.20" textLength="75.10" lengthAdjust="spacingAndGlyphs" fill="#000">Initialized</text>
<text x="291.30" y="76.70" font-family="Liberation Sans, sans-serif" font-size="14.50" letter-spacing="1.20" textLength="49.90" lengthAdjust="spacingAndGlyphs" fill="#000">00UTC</text>
<path d="M355.3 76.7 L355.3 66.8 M352.6 69.2 L355.3 66.9" stroke="#000" stroke-width="1.45" fill="none"/>
<text x="369.50" y="76.70" font-family="Liberation Sans, sans-serif" font-size="14.50" letter-spacing="1.20" textLength="26.50" lengthAdjust="spacingAndGlyphs" fill="#000">Oct</text>
<text x="404.50" y="76.70" font-family="Liberation Sans, sans-serif" font-size="14.50" letter-spacing="1.20" textLength="40.30" lengthAdjust="spacingAndGlyphs" fill="#000">2025</text>
<text x="12.10" y="385.80" font-family="Liberation Sans, sans-serif" font-size="11.80" letter-spacing="0.90" textLength="12.50" lengthAdjust="spacingAndGlyphs" fill="#000">©</text>
<text x="26.30" y="385.80" font-family="Liberation Sans, sans-serif" font-size="11.80" letter-spacing="0.90" textLength="32.50" lengthAdjust="spacingAndGlyphs" fill="#000">World</text>
<text x="65.30" y="385.80" font-family="Liberation Sans, sans-serif" font-size="11.80" letter-spacing="0.90" textLength="16.50" lengthAdjust="spacingAndGlyphs" fill="#000">Ag</text>
<text x="87.30" y="385.80" font-family="Liberation Sans, sans-serif" font-size="11.80" letter-spacing="0.90" textLength="49.90" lengthAdjust="spacingAndGlyphs" fill="#000">Weather</text>
<polygon points="13,412.8 51.3,406.3 51.3,419.2" fill="#c8c8c8" stroke="#000" stroke-width="1.2"/>
<rect x="51.30" y="406.3" width="38.18" height="12.9" fill="#00ffff" stroke="#000" stroke-width="1.2"/>
<rect x="89.48" y="406.3" width="38.18" height="12.9" fill="#1e8cff" stroke="#000" stroke-width="1.2"/>
<rect x="127.66" y="406.3" width="38.18" height="12.9" fill="#0000f0" stroke="#000" stroke-width="1.2"/>
<rect x="165.84" y="406.3" width="38.18" height="12.9" fill="#14ff28" stroke="#000" stroke-width="1.2"/>
<rect x="204.02" y="406.3" width="38.18" height="12.9" fill="#00b000" stroke="#000" stroke-width="1.2"/>
<rect x="242.20" y="406.3" width="38.18" height="12.9" fill="#006e00" stroke="#000" stroke-width="1.2"/>
<rect x="280.38" y="406.3" width="38.18" height="12.9" fill="#003000" stroke="#000" stroke-width="1.2"/>
<rect x="318.56" y="406.3" width="38.18" height="12.9" fill="#ffff00" stroke="#000" stroke-width="1.2"/>
<rect x="356.74" y="406.3" width="38.18" height="12.9" fill="#ff8000" stroke="#000" stroke-width="1.2"/>
<rect x="394.92" y="406.3" width="38.18" height="12.9" fill="#f00000" stroke="#000" stroke-width="1.2"/>
<rect x="433.10" y="406.3" width="38.18" height="12.9" fill="#be0050" stroke="#000" stroke-width="1.2"/>
<rect x="471.28" y="406.3" width="38.18" height="12.9" fill="#ff00ff" stroke="#000" stroke-width="1.2"/>
<rect x="509.46" y="406.3" width="38.18" height="12.9" fill="#9b50c8" stroke="#000" stroke-width="1.2"/>
<polygon points="547.6,406.3 586.3,412.8 547.6,419.2" fill="#fff" stroke="#000" stroke-width="1.2"/>
<text x="51.5" y="431.8" font-family="Liberation Sans, sans-serif" font-size="12.3" letter-spacing="0.5" text-anchor="middle" fill="#000" stroke="#000" stroke-width="0.45">2</text>
<text x="89.7" y="431.8" font-family="Liberation Sans, sans-serif" font-size="12.3" letter-spacing="0.5" text-anchor="middle" fill="#000" stroke="#000" stroke-width="0.45">5</text>
<text x="127.9" y="431.8" font-family="Liberation Sans, sans-serif" font-size="12.3" letter-spacing="0.5" text-anchor="middle" fill="#000" stroke="#000" stroke-width="0.45"> 0</text>
<path d="M124.57 431.80 L124.57 423.34 M121.87 425.74 L124.57 423.64" stroke="#000" stroke-width="1.7" fill="none"/>
<text x="166.1" y="431.8" font-family="Liberation Sans, sans-serif" font-size="12.3" letter-spacing="0.5" text-anchor="middle" fill="#000" stroke="#000" stroke-width="0.45"> 5</text>
<path d="M162.75 431.80 L162.75 423.34 M160.05 425.74 L162.75 423.64" stroke="#000" stroke-width="1.7" fill="none"/>
<text x="204.3" y="431.8" font-family="Liberation Sans, sans-serif" font-size="12.3" letter-spacing="0.5" text-anchor="middle" fill="#000" stroke="#000" stroke-width="0.45">25</text>
<text x="242.4" y="431.8" font-family="Liberation Sans, sans-serif" font-size="12.3" letter-spacing="0.5" text-anchor="middle" fill="#000" stroke="#000" stroke-width="0.45">35</text>
<text x="280.6" y="431.8" font-family="Liberation Sans, sans-serif" font-size="12.3" letter-spacing="0.5" text-anchor="middle" fill="#000" stroke="#000" stroke-width="0.45">50</text>
<text x="318.8" y="431.8" font-family="Liberation Sans, sans-serif" font-size="12.3" letter-spacing="0.5" text-anchor="middle" fill="#000" stroke="#000" stroke-width="0.45">65</text>
<text x="357.0" y="431.8" font-family="Liberation Sans, sans-serif" font-size="12.3" letter-spacing="0.5" text-anchor="middle" fill="#000" stroke="#000" stroke-width="0.45">80</text>
<text x="395.2" y="431.8" font-family="Liberation Sans, sans-serif" font-size="12.3" letter-spacing="0.5" text-anchor="middle" fill="#000" stroke="#000" stroke-width="0.45"> 00</text>
<path d="M388.16 431.80 L388.16 423.34 M385.46 425.74 L388.16 423.64" stroke="#000" stroke-width="1.7" fill="none"/>
<text x="433.4" y="431.8" font-family="Liberation Sans, sans-serif" font-size="12.3" letter-spacing="0.5" text-anchor="middle" fill="#000" stroke="#000" stroke-width="0.45"> 25</text>
<path d="M426.34 431.80 L426.34 423.34 M423.64 425.74 L426.34 423.64" stroke="#000" stroke-width="1.7" fill="none"/>
<text x="471.5" y="431.8" font-family="Liberation Sans, sans-serif" font-size="12.3" letter-spacing="0.5" text-anchor="middle" fill="#000" stroke="#000" stroke-width="0.45"> 50</text>
<path d="M464.52 431.80 L464.52 423.34 M461.82 425.74 L464.52 423.64" stroke="#000" stroke-width="1.7" fill="none"/>
<text x="509.7" y="431.8" font-family="Liberation Sans, sans-serif" font-size="12.3" letter-spacing="0.5" text-anchor="middle" fill="#000" stroke="#000" stroke-width="0.45">200</text>
<text x="547.9" y="431.8" font-family="Liberation Sans, sans-serif" font-size="12.3" letter-spacing="0.5" text-anchor="middle" fill="#000" stroke="#000" stroke-width="0.45">250</text>
<text x="288.0" y="445.5" font-family="Liberation Sans, sans-serif" font-size="12.3" font-weight="normal" fill="#111" textLength="23.5" lengthAdjust="spacingAndGlyphs">mm</text>
</svg>
</body></html>
